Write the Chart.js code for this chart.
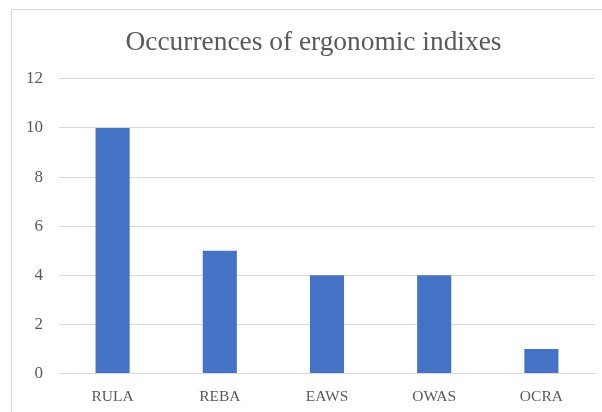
<!DOCTYPE html>
<html>
<head>
<meta charset="utf-8">
<script src="https://cdn.jsdelivr.net/npm/chart.js@4/dist/chart.umd.min.js"></script>
<style>
  html, body { margin: 0; padding: 0; background: #fff; }
  #wrap { position: relative; width: 602px; height: 412px; overflow: hidden; }
  #frame { position: absolute; left: 11px; top: 9px; width: 640px; height: 460px; border: 1px solid #d9d9d9; pointer-events: none; }
</style>
</head>
<body>
<div id="wrap">
  <canvas id="chart" width="602" height="412"></canvas>
  <div id="frame"></div>
</div>
<script>
  const categories = ['RULA', 'REBA', 'EAWS', 'OWAS', 'OCRA'];
  const occurrences = [10, 5, 4, 4, 1];
  const yTicks = [0, 2, 4, 6, 8, 10, 12];

  const serif = "'Liberation Serif', 'DejaVu Serif', serif";

  // nudge the title a bit right, the original is centred on the whole frame
  const shiftTitle = {
    id: 'shiftTitle',
    afterLayout(chart) {
      if (chart.titleBlock) chart.titleBlock.left += 32;
    }
  };

  new Chart(document.getElementById('chart'), {
    type: 'bar',
    data: {
      labels: categories,
      datasets: [{
        label: 'Occurrences',
        data: occurrences,
        backgroundColor: '#4472C4',
        categoryPercentage: 1,
        barPercentage: 0.318
      }]
    },
    options: {
      responsive: false,
      animation: false,
      layout: { padding: { top: 26, right: 7, left: 0, bottom: 0 } },
      plugins: {
        legend: { display: false },
        tooltip: { enabled: false },
        title: {
          display: true,
          text: 'Occurrences of ergonomic indixes',
          color: '#595959',
          font: { family: serif, size: 27.4, weight: 'normal' },
          padding: { top: 0, bottom: 20 }
        }
      },
      scales: {
        x: {
          grid: { display: false },
          border: { color: '#d9d9d9' },
          ticks: { color: '#595959', font: { family: serif, size: 15.5 }, padding: 6 },
          afterFit: s => { s.height = 38.5; }
        },
        y: {
          min: 0,
          max: 12,
          afterBuildTicks: s => { s.ticks = yTicks.map(v => ({ value: v })); },
          grid: { color: '#d9d9d9', drawTicks: false },
          border: { display: false },
          ticks: { color: '#595959', font: { family: serif, size: 17 }, padding: 16 },
          afterFit: s => { s.width = 59; }
        }
      }
    },
    plugins: [shiftTitle]
  });
</script>
</body>
</html>
